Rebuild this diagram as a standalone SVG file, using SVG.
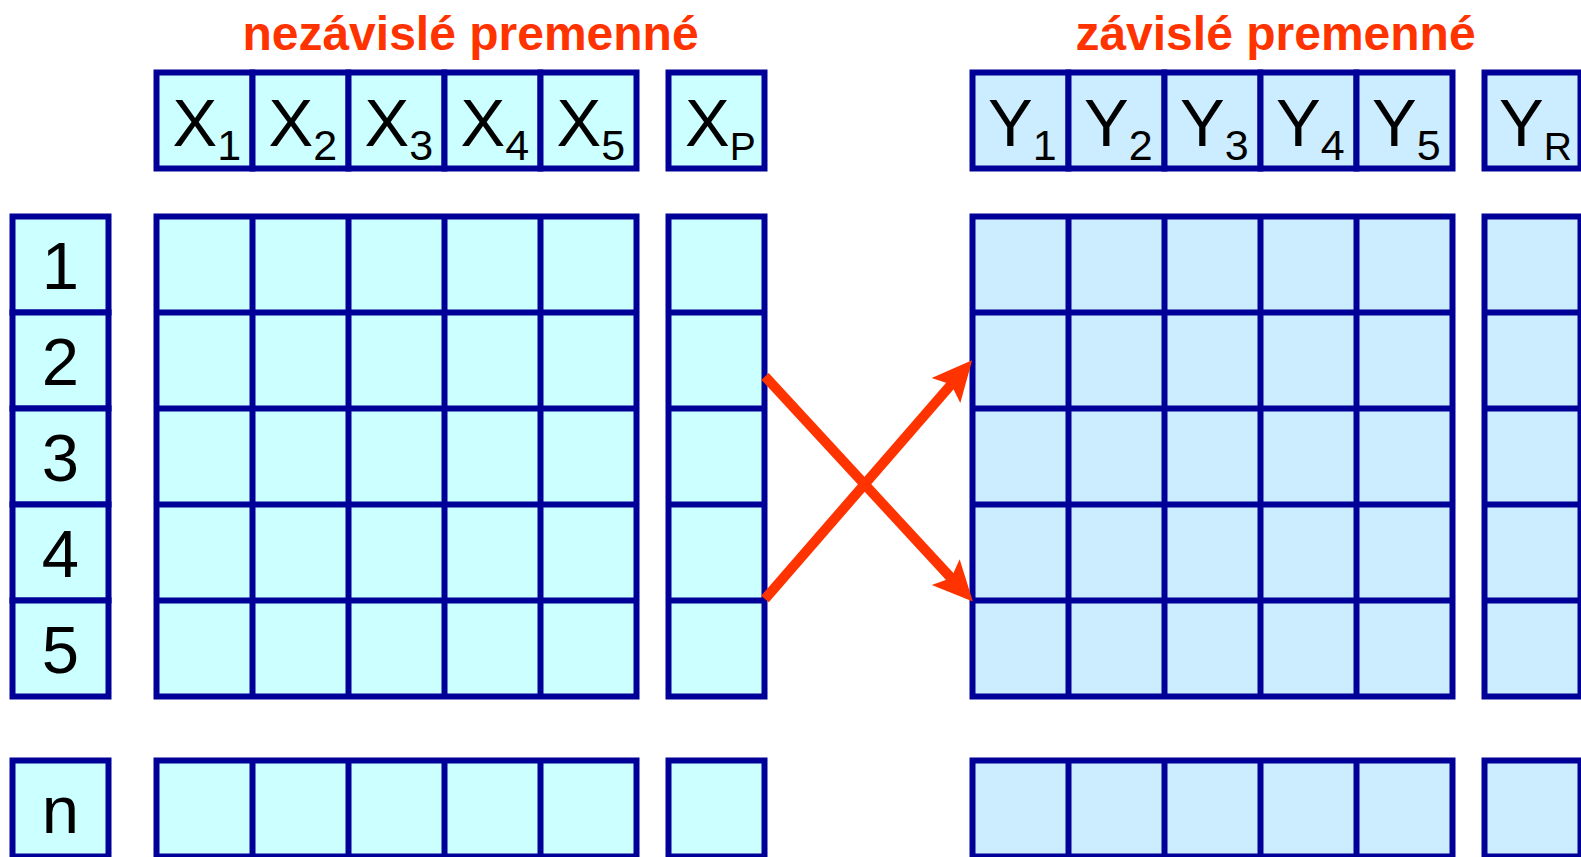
<svg xmlns="http://www.w3.org/2000/svg" width="1581" height="857" viewBox="0 0 1581 857">
<style>
.cx{fill:#CCFFFF;stroke:#000099;stroke-width:6}
.cy{fill:#CCECFF;stroke:#000099;stroke-width:6}
.ln{stroke:#000099;stroke-width:6;fill:none}
.t{font-family:"Liberation Sans",Arial,sans-serif;fill:#000}
.big{font-size:67px}
.sub{font-size:43px}
.sub2{font-size:39px}
.title{font-family:"Liberation Sans",Arial,sans-serif;font-weight:bold;font-size:48px;fill:#FF3300;text-anchor:middle}
.arr{stroke:#FF3300;stroke-width:10;fill:none;stroke-linecap:butt}
</style>
<defs>
<marker id="ah" markerUnits="userSpaceOnUse" markerWidth="46" markerHeight="46" viewBox="0 -23 46 46" refX="10" refY="0" orient="auto" overflow="visible">
<path d="M0,-19 L40,0 L0,19 L8,0 Z" fill="#FF3300"/>
</marker>
</defs>
<rect width="1581" height="857" fill="#fff"/>
<g id="titles">
<text class="title" x="470.5" y="50">nezávislé premenné</text>
<text class="title" x="1275.5" y="50">závislé premenné</text>
</g>
<g id="x-header">
<rect class="cx" x="156.5" y="72.5" width="96" height="96"/>
<rect class="cx" x="252.5" y="72.5" width="96" height="96"/>
<rect class="cx" x="348.5" y="72.5" width="96" height="96"/>
<rect class="cx" x="444.5" y="72.5" width="96" height="96"/>
<rect class="cx" x="540.5" y="72.5" width="96" height="96"/>
<text class="t big" x="172.5" y="146">X<tspan class="sub" dy="14">1</tspan></text>
<text class="t big" x="268.5" y="146">X<tspan class="sub" dy="14">2</tspan></text>
<text class="t big" x="364.5" y="146">X<tspan class="sub" dy="14">3</tspan></text>
<text class="t big" x="460.5" y="146">X<tspan class="sub" dy="14">4</tspan></text>
<text class="t big" x="556.5" y="146">X<tspan class="sub" dy="14">5</tspan></text>
</g>
<g id="xp-header">
<rect class="cx" x="668.5" y="72.5" width="96" height="96"/>
<text class="t big" x="685" y="146">X<tspan class="sub2" dy="14">P</tspan></text>
</g>
<g id="y-header">
<rect class="cy" x="972.5" y="72.5" width="96" height="96"/>
<rect class="cy" x="1068.5" y="72.5" width="96" height="96"/>
<rect class="cy" x="1164.5" y="72.5" width="96" height="96"/>
<rect class="cy" x="1260.5" y="72.5" width="96" height="96"/>
<rect class="cy" x="1356.5" y="72.5" width="96" height="96"/>
<text class="t big" x="988" y="146">Y<tspan class="sub" dy="14">1</tspan></text>
<text class="t big" x="1084" y="146">Y<tspan class="sub" dy="14">2</tspan></text>
<text class="t big" x="1180" y="146">Y<tspan class="sub" dy="14">3</tspan></text>
<text class="t big" x="1276" y="146">Y<tspan class="sub" dy="14">4</tspan></text>
<text class="t big" x="1372" y="146">Y<tspan class="sub" dy="14">5</tspan></text>
</g>
<g id="yr-header">
<rect class="cy" x="1484.5" y="72.5" width="96" height="96"/>
<text class="t big" x="1499" y="146">Y<tspan class="sub2" dy="14">R</tspan></text>
</g>
<g id="row-labels">
<rect class="cx" x="12.5" y="216.5" width="96" height="96"/>
<rect class="cx" x="12.5" y="312.5" width="96" height="96"/>
<rect class="cx" x="12.5" y="408.5" width="96" height="96"/>
<rect class="cx" x="12.5" y="504.5" width="96" height="96"/>
<rect class="cx" x="12.5" y="600.5" width="96" height="96"/>
<rect class="cx" x="12.5" y="760.5" width="96" height="96"/>
<g class="t big" text-anchor="middle">
<text x="60.5" y="288.5">1</text>
<text x="60.5" y="384.5">2</text>
<text x="60.5" y="480.5">3</text>
<text x="60.5" y="576.5">4</text>
<text x="60.5" y="672.5">5</text>
<text x="60.5" y="832.5">n</text>
</g>
</g>
<g id="x-data">
<rect class="cx" x="156.5" y="216.5" width="480" height="480"/>
<path class="ln" d="M252.5,216.5V696.5M348.5,216.5V696.5M444.5,216.5V696.5M540.5,216.5V696.5M156.5,312.5H636.5M156.5,408.5H636.5M156.5,504.5H636.5M156.5,600.5H636.5"/>
<rect class="cx" x="156.5" y="760.5" width="480" height="96"/>
<path class="ln" d="M252.5,760.5V856.5M348.5,760.5V856.5M444.5,760.5V856.5M540.5,760.5V856.5"/>
</g>
<g id="xp-data">
<rect class="cx" x="668.5" y="216.5" width="96" height="480"/>
<path class="ln" d="M668.5,312.5H764.5M668.5,408.5H764.5M668.5,504.5H764.5M668.5,600.5H764.5"/>
<rect class="cx" x="668.5" y="760.5" width="96" height="96"/>
</g>
<g id="y-data">
<rect class="cy" x="972.5" y="216.5" width="480" height="480"/>
<path class="ln" d="M1068.5,216.5V696.5M1164.5,216.5V696.5M1260.5,216.5V696.5M1356.5,216.5V696.5M972.5,312.5H1452.5M972.5,408.5H1452.5M972.5,504.5H1452.5M972.5,600.5H1452.5"/>
<rect class="cy" x="972.5" y="760.5" width="480" height="96"/>
<path class="ln" d="M1068.5,760.5V856.5M1164.5,760.5V856.5M1260.5,760.5V856.5M1356.5,760.5V856.5"/>
</g>
<g id="yr-data">
<rect class="cy" x="1484.5" y="216.5" width="96" height="480"/>
<path class="ln" d="M1484.5,312.5H1580.5M1484.5,408.5H1580.5M1484.5,504.5H1580.5M1484.5,600.5H1580.5"/>
<rect class="cy" x="1484.5" y="760.5" width="96" height="96"/>
</g>
<g id="connectors">
<line class="arr" x1="765" y1="376.5" x2="952.5" y2="579.5" marker-end="url(#ah)"/>
<line class="arr" x1="765" y1="599" x2="952.5" y2="383" marker-end="url(#ah)"/>
</g>
</svg>
